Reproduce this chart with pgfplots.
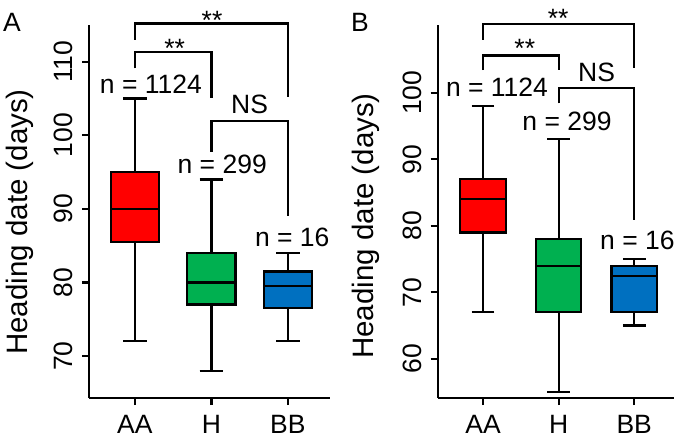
\documentclass[border=0pt]{standalone}
\usepackage{fontspec}
\setmainfont{Liberation Sans}
\usepackage{pgfplots}
\pgfplotsset{compat=1.18}
\usepgfplotslibrary{statistics}
\definecolor{bxred}{HTML}{FF0000}
\definecolor{bxgreen}{HTML}{00B050}
\definecolor{bxblue}{HTML}{0070C0}
\newcommand{\fs}{\fontsize{26.5}{30}\selectfont}
\newcommand{\fl}{\fontsize{29.5}{33}\selectfont}
\pgfplotsset{panel/.style={
  scale only axis,
  axis x line*=bottom, axis y line*=left,
  axis line style={-, line width=2.2pt},
  tick align=outside,
  major tick length=7pt,
  major tick style={line width=2.2pt, black},
  xtick={1,2,3}, xticklabels={AA,H,BB},
  xmin=0.4, xmax=3.55,
  tick label style={font=\fs},
  /pgf/number format/assume math mode=true,
  yticklabel style={rotate=90, anchor=south, inner sep=0pt},
  xticklabel style={inner sep=0pt, anchor=north},
  yticklabel shift=9pt,
  xticklabel shift=10pt,
  clip=false,
  height=373pt,
  boxplot/draw direction=y,
  boxplot/every box/.style={line width=2.2pt},
  boxplot/every whisker/.style={line width=2.2pt},
  boxplot/every median/.style={line width=2.2pt},
}}
\begin{document}
\begin{tikzpicture}
% ---------- Panel A ----------
\begin{axis}[panel, at={(89pt,-398pt)}, anchor=south west, width=241pt,
  ymin=64.3, ymax=115, ytick={70,80,90,100,110}]
\addplot+[mark=none, solid, draw=black, fill=bxred, line width=2.2pt,
  boxplot prepared={draw position=1,
  lower whisker=72, lower quartile=85.5, median=90, upper quartile=95,
  upper whisker=105, box extend=0.63, whisker extend=0.31}] coordinates {};
\addplot+[mark=none, solid, draw=black, fill=bxgreen, line width=2.2pt,
  boxplot prepared={draw position=2,
  lower whisker=68, lower quartile=77, median=80, upper quartile=84,
  upper whisker=94, box extend=0.63, whisker extend=0.31}] coordinates {};
\addplot+[mark=none, solid, draw=black, fill=bxblue, line width=2.2pt,
  boxplot prepared={draw position=3,
  lower whisker=72, lower quartile=76.5, median=79.5, upper quartile=81.5,
  upper whisker=84, box extend=0.63, whisker extend=0.31}] coordinates {};
\draw[line width=2.2pt] (axis cs:1,113) |- (axis cs:3,115.2) -- (axis cs:3,105.2);
\draw[line width=2.2pt] (axis cs:1,109.1) |- (axis cs:2,111.3) -- (axis cs:2,105.1);
\draw[line width=2.2pt] (axis cs:2,97.8) |- (axis cs:3,102) -- (axis cs:3,89);
\node[font=\fs, anchor=base, inner sep=0pt] at (axis cs:1.209,105.7) {n = 1124};
\node[font=\fs, anchor=base, inner sep=0pt] at (axis cs:2.141,94.82) {n = 299};
\node[font=\fs, anchor=base, inner sep=0pt] at (axis cs:3.057,84.83) {n = 16};
\node[font=\fs, anchor=base, inner sep=0pt] at (axis cs:2.499,102.98) {NS};
\node[font=\fs, anchor=base, inner sep=0pt] at (axis cs:2.008,114.45) {**};
\node[font=\fs, anchor=base, inner sep=0pt] at (axis cs:1.52,110.6) {**};
\end{axis}
% ---------- Panel B ----------
\begin{axis}[panel, at={(437.7pt,-398pt)}, anchor=south west, width=236.6pt,
  xmax=3.53, ymin=54.1, ymax=110.2, ytick={60,70,80,90,100}]
\addplot+[mark=none, solid, draw=black, fill=bxred, line width=2.2pt,
  boxplot prepared={draw position=1,
  lower whisker=67, lower quartile=79, median=84, upper quartile=87,
  upper whisker=98, box extend=0.6, whisker extend=0.3}] coordinates {};
\addplot+[mark=none, solid, draw=black, fill=bxgreen, line width=2.2pt,
  boxplot prepared={draw position=2,
  lower whisker=55, lower quartile=67, median=74, upper quartile=78,
  upper whisker=93, box extend=0.6, whisker extend=0.3}] coordinates {};
\addplot+[mark=none, solid, draw=black, fill=bxblue, line width=2.2pt,
  boxplot prepared={draw position=3,
  lower whisker=65, lower quartile=67, median=72.5, upper quartile=74,
  upper whisker=75, box extend=0.6, whisker extend=0.3}] coordinates {};
\draw[line width=2.2pt] (axis cs:1,108) |- (axis cs:3,110.3) -- (axis cs:3,103.7);
\draw[line width=2.2pt] (axis cs:1,103.4) |- (axis cs:2,105.6) -- (axis cs:2,103.4);
\draw[line width=2.2pt] (axis cs:2,98.4) |- (axis cs:3,100.7) -- (axis cs:3,80.9);
\node[font=\fs, anchor=base, inner sep=0pt] at (axis cs:1.184,99.4) {n = 1124};
\node[font=\fs, anchor=base, inner sep=0pt] at (axis cs:2.111,94.4) {n = 299};
\node[font=\fs, anchor=base, inner sep=0pt] at (axis cs:3.042,76.38) {n = 16};
\node[font=\fs, anchor=base, inner sep=0pt] at (axis cs:2.502,101.65) {NS};
\node[font=\fs, anchor=base, inner sep=0pt] at (axis cs:1.993,109.8) {**};
\node[font=\fs, anchor=base, inner sep=0pt] at (axis cs:1.552,105.3) {**};
\end{axis}
% ---------- labels ----------
\node[font=\fl, rotate=90, anchor=center, inner sep=0pt] at (20pt,-222pt) {Heading date (days)};
\node[font=\fl, rotate=90, anchor=center, inner sep=0pt] at (365.8pt,-226pt) {Heading date (days)};
\node[font=\fs, anchor=base, inner sep=0pt] at (12pt,-32pt) {A};
\node[font=\fs, anchor=base, inner sep=0pt] at (360pt,-31.7pt) {B};
\pgfresetboundingbox
\useasboundingbox (0pt,0pt) rectangle (677pt,-444pt);
\end{tikzpicture}
\end{document}
